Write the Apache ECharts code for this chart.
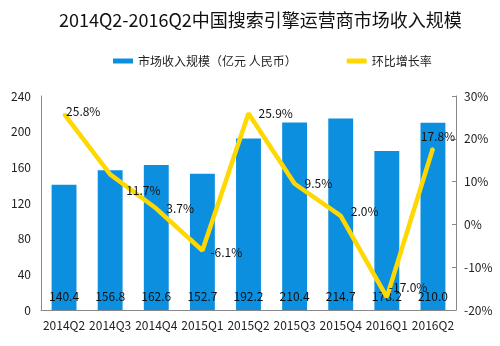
<!DOCTYPE html>
<html><head><meta charset="utf-8">
<script src="https://cdn.jsdelivr.net/npm/echarts@6/dist/echarts.min.js"></script>
<style>html,body{margin:0;padding:0;background:#fff}#c{width:500px;height:346px}</style>
</head><body><div id="c"></div>
<script>
const categories = ['2014Q2','2014Q3','2014Q4','2015Q1','2015Q2','2015Q3','2015Q4','2016Q1','2016Q2'];
const revenue = [140.4,156.8,162.6,152.7,192.2,210.4,214.7,178.2,210.0];
const growth = [25.8,11.7,3.7,-6.1,25.9,9.5,2.0,-17.0,17.8];
const leftTicks = {min:0,max:240,interval:40};
const rightTicks = {min:-20,max:30,interval:10};
const growthLabelPos = ['right','right','right','right','right','right','right','right','top'];
const growthLabelOffset = [[-4,-3],[10,16],[4,0],[2,2],[4,0],[4,0],[4,-4],[-4,-10],[5,0]];

const font = '"Noto Sans CJK SC","Microsoft YaHei",sans-serif';
const chart = echarts.init(document.getElementById('c'));
chart.setOption({
  backgroundColor:'#fff',
  animation:false,
  textStyle:{fontFamily:font},
  title:{text:'2014Q2-2016Q2中国搜索引擎运营商市场收入规模',left:54,top:6,
    textStyle:{fontFamily:font,fontSize:18,fontWeight:'normal',color:'#111'}},
  legend:{top:50,left:108,itemGap:50,itemWidth:20,itemHeight:5,
    textStyle:{fontFamily:font,fontSize:12,color:'#222'},
    data:[{name:'市场收入规模（亿元 人民币）',icon:'rect'},{name:'环比增长率',icon:'roundRect'}]},
  grid:{left:41,right:44,top:96,bottom:36},
  xAxis:{type:'category',data:categories,
    axisLine:{lineStyle:{color:'#888'}},axisTick:{show:false},
    axisLabel:{color:'#222',fontSize:12,fontFamily:font,margin:9,interval:0}},
  yAxis:[
    {type:'value',min:leftTicks.min,max:leftTicks.max,interval:leftTicks.interval,
     axisLine:{show:true,lineStyle:{color:'#888'}},axisTick:{show:false},splitLine:{show:false},
     axisLabel:{color:'#222',fontSize:12,fontFamily:font,margin:10}},
    {type:'value',min:rightTicks.min,max:rightTicks.max,interval:rightTicks.interval,
     axisLine:{show:true,lineStyle:{color:'#888'}},axisTick:{show:true,inside:true,length:4,lineStyle:{color:'#888'}},
     splitLine:{show:false},
     axisLabel:{color:'#222',fontSize:12,fontFamily:font,margin:8,formatter:'{value}%'}}
  ],
  series:[
    {name:'市场收入规模（亿元 人民币）',type:'bar',data:revenue,barWidth:'54%',
     itemStyle:{color:'#0c8fdf'},
     label:{show:true,position:'insideBottom',distance:8,color:'#111',fontSize:12,fontFamily:font,
       formatter:p=>p.value.toFixed(1)}},
    {name:'环比增长率',type:'line',yAxisIndex:1,
     data:growth.map((v,i)=>({value:v,label:{position:growthLabelPos[i],offset:growthLabelOffset[i]}})),
     symbol:'circle',symbolSize:2,showSymbol:true,lineStyle:{color:'#ffd800',width:4.5},itemStyle:{color:'#ffd800'},
     label:{show:true,color:'#111',fontSize:12,fontFamily:font,formatter:p=>p.value.toFixed(1)+'%'}}
  ]
});
</script></body></html>
